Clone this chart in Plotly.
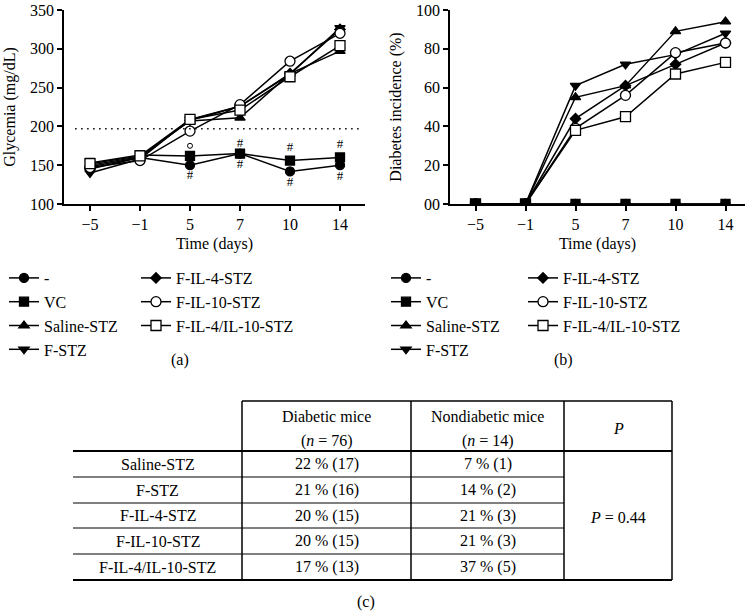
import plotly.graph_objects as go

# ---------------- data ----------------
days = ["\u22125", "\u22121", "5", "7", "10", "14"]
group_names = ["-", "VC", "Saline-STZ", "F-STZ", "F-IL-4-STZ", "F-IL-10-STZ", "F-IL-4/IL-10-STZ"]

# (a) glycemia, mg/dL
gly_none = [148, 160, 150, 165, 142, 150]
gly_vc = [153, 163, 162, 165, 156, 160]
gly_saline = [150, 161, 207, 211, 268, 297]
gly_fstz = [140, 158, 209, 226, 267, 327]
gly_il4 = [145, 160, 208, 226, 268, 325]
gly_il10 = [147, 156, 194, 228, 284, 320]
gly_il4il10 = [152, 162, 209, 221, 264, 304]
glycemia_threshold = 197

hash_days = ["5", "7", "7", "10", "10", "14", "14"]
hash_values = [136, 178, 151, 173, 127, 177, 135]
circ_days = ["5"]
circ_values = [175]

# (b) diabetes incidence, %
inc_none = [0, 0, 0, 0, 0, 0]
inc_vc = [0, 0, 0, 0, 0, 0]
inc_saline = [0, 0, 55, 61, 89, 94]
inc_fstz = [0, 0, 61, 72, 77, 88]
inc_il4 = [0, 0, 44, 61, 72, 83]
inc_il10 = [0, 0, 39, 56, 78, 83]
inc_il4il10 = [0, 0, 38, 45, 67, 73]

# (c) table
tbl_groups = ["Saline-STZ", "F-STZ", "F-IL-4-STZ", "F-IL-10-STZ", "F-IL-4/IL-10-STZ"]
tbl_diabetic = ["22 % (17)", "21 % (16)", "20 % (15)", "20 % (15)", "17 % (13)"]
tbl_nondiabetic = ["7 % (1)", "14 % (2)", "21 % (3)", "21 % (3)", "37 % (5)"]
tbl_header = ["Diabetic mice", "(<i>n</i> = 76)", "Nondiabetic mice", "(<i>n</i> = 14)", "<i>P</i>"]
tbl_p = "<i>P</i> = 0.44"

# ---------------- style ----------------
W, H = 750, 611
FONT = "Liberation Serif"
def px(x): return x / W
def py(y): return 1 - y / H

symbols = ["circle", "square", "triangle-up", "triangle-down", "diamond", "circle", "square"]
fills = ["black", "black", "black", "black", "black", "white", "white"]
sizes = [9, 9, 9, 9, 8, 10, 10]
legend_left = ["legend", "legend", "legend", "legend", "legend2", "legend2", "legend2"]
legend_right = ["legend3", "legend3", "legend3", "legend3", "legend4", "legend4", "legend4"]

gly_series = [gly_none, gly_vc, gly_saline, gly_fstz, gly_il4, gly_il10, gly_il4il10]
inc_series = [inc_none, inc_vc, inc_saline, inc_fstz, inc_il4, inc_il10, inc_il4il10]

fig = go.Figure()
for i, name in enumerate(group_names):
    mk = dict(symbol=symbols[i], size=sizes[i], color=fills[i], line=dict(color="black", width=1.3))
    fig.add_trace(go.Scatter(x=days, y=gly_series[i], name=name, mode="lines+markers",
                             line=dict(color="black", width=1.5), marker=mk, legendrank=i + 1,
                             xaxis="x", yaxis="y", legend=legend_left[i], legendgroup="a%d" % i))
# right panel: draw controls last so the filled squares sit on top at 0 %
right_order = [2, 3, 4, 5, 6, 0, 1]
for i in right_order:
    mk = dict(symbol=symbols[i], size=sizes[i], color=fills[i], line=dict(color="black", width=1.3))
    fig.add_trace(go.Scatter(x=days, y=inc_series[i], name=group_names[i], mode="lines+markers",
                             line=dict(color="black", width=1.5), marker=mk, legendrank=i + 1,
                             xaxis="x2", yaxis="y2", legend=legend_right[i], legendgroup="b%d" % i))

# significance marks
fig.add_trace(go.Scatter(x=hash_days, y=hash_values, mode="text", text=["#"] * len(hash_days),
                         textfont=dict(family=FONT, size=13, color="black"), showlegend=False,
                         xaxis="x", yaxis="y", hoverinfo="skip"))
fig.add_trace(go.Scatter(x=circ_days, y=circ_values, mode="markers", showlegend=False,
                         marker=dict(symbol="circle-open", size=5, color="black", line=dict(width=1)),
                         xaxis="x", yaxis="y", hoverinfo="skip"))

axis_common = dict(showline=True, linecolor="black", linewidth=1.5, ticks="outside", ticklen=5,
                   tickwidth=1.5, tickcolor="black", showgrid=False, zeroline=False,
                   ticklabeloverflow="allow", automargin=False,
                   tickfont=dict(family=FONT, size=16, color="black"),
                   title_font=dict(family=FONT, size=16, color="black"))

fig.update_layout(
    width=W, height=H, margin=dict(l=0, r=0, t=0, b=0, pad=0, autoexpand=False),
    paper_bgcolor="white", plot_bgcolor="white",
    font=dict(family=FONT, size=16, color="black"),
    xaxis=dict(domain=[px(64), px(365)], anchor="y", type="category",
               categoryorder="array", categoryarray=days, range=[-0.52, 5.5],
               title=dict(text="Time (days)", standoff=6), **axis_common),
    yaxis=dict(domain=[py(204), py(10)], anchor="x", range=[100, 350],
               tickvals=[100, 150, 200, 250, 300, 350],
               title=dict(text="Glycemia (mg/dL)", standoff=10), **axis_common),
    xaxis2=dict(domain=[px(450), px(745)], anchor="y2", type="category",
                categoryorder="array", categoryarray=days, range=[-0.51, 5.39],
                title=dict(text="Time (days)", standoff=6), **axis_common),
    yaxis2=dict(domain=[py(204), py(10)], anchor="x2", range=[0, 100],
                tickvals=[0, 20, 40, 60, 80, 100], ticktext=["00", "20", "40", "60", "80", "100"],
                title=dict(text="Diabetes incidence (%)", standoff=10), **axis_common),
)

def leg(x, y):
    return dict(x=px(x), y=py(y), xanchor="left", yanchor="top", orientation="v",
                traceorder="grouped", tracegroupgap=0, itemwidth=30,
                font=dict(family=FONT, size=16, color="black"),
                bgcolor="rgba(0,0,0,0)", borderwidth=0)

fig.update_layout(legend=leg(4, 261), legend2=leg(136, 261),
                  legend3=leg(386, 261), legend4=leg(523, 261))

# threshold line
fig.add_shape(type="line", xref="x domain", yref="y", x0=0.037, x1=0.983,
              y0=glycemia_threshold, y1=glycemia_threshold,
              line=dict(color="black", width=1.5, dash="1.5px,4.5px"))

def txt(s, x, y):
    fig.add_annotation(text=s, x=px(x), y=py(y), xref="paper", yref="paper", showarrow=False,
                       xanchor="center", yanchor="middle",
                       font=dict(family=FONT, size=16, color="black"))

# panel labels
for lbl, x, y in [("(a)", 180, 360), ("(b)", 563, 360), ("(c)", 366, 602)]:
    txt(lbl, x, y)

# ---------------- table (c) ----------------
TL, C1, C2, C3, TR = 73, 242, 411, 564, 672
TT, HB, TB = 401, 451, 580
row_lines = [477, 503, 528, 554]
row_centers = [464, 490, 515.5, 541, 567]

def hline(x0, x1, y, w):
    fig.add_shape(type="line", xref="paper", yref="paper", x0=px(x0), x1=px(x1), y0=py(y), y1=py(y),
                  line=dict(color="black", width=w))
def vline(x, y0, y1, w):
    fig.add_shape(type="line", xref="paper", yref="paper", x0=px(x), x1=px(x), y0=py(y0), y1=py(y1),
                  line=dict(color="black", width=w))

hline(C1, TR, TT, 1.5)
hline(TL, TR, HB, 2)
for y in row_lines:
    hline(TL, C3, y, 1)
hline(TL, TR, TB, 2)
for x in [C1, C2, C3, TR]:
    vline(x, TT, TB, 1.5)

txt(tbl_header[0], (C1 + C2) / 2, 416)
txt(tbl_header[1], (C1 + C2) / 2, 441)
txt(tbl_header[2], (C2 + C3) / 2, 416)
txt(tbl_header[3], (C2 + C3) / 2, 441)
txt(tbl_header[4], (C3 + TR) / 2, 428)
for i in range(len(tbl_groups)):
    txt(tbl_groups[i], (TL + C1) / 2, row_centers[i])
    txt(tbl_diabetic[i], (C1 + C2) / 2, row_centers[i])
    txt(tbl_nondiabetic[i], (C2 + C3) / 2, row_centers[i])
txt(tbl_p, (C3 + TR) / 2, 517)

# the page body has a default 8px margin; remove it so the figure fills the window
fig.write_html("out.html", config={"displayModeBar": False},
               post_script="document.body.style.margin='0';document.body.style.overflow='hidden';")
